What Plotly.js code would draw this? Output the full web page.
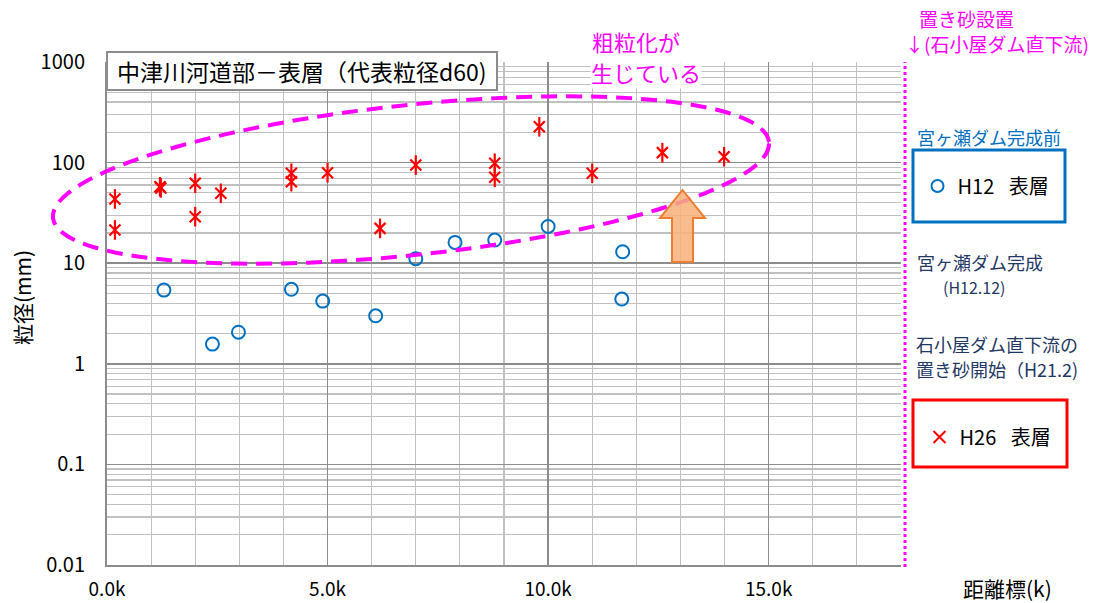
<!DOCTYPE html>
<html><head><meta charset="utf-8">
<script src="https://cdn.plot.ly/plotly-3.0.1.min.js"></script>
<style>html,body{margin:0;padding:0;background:#fff}</style>
</head><body><div id="chart" style="width:1094px;height:603px"></div>
<script>
// H12 surface layer (before Miyagase dam completion)
const h12Dist = [1.29, 2.39, 2.98, 4.18, 4.89, 6.09, 7.0, 7.89, 8.79, 10.0, 11.69, 11.67];
const h12D60  = [5.4, 1.57, 2.06, 5.5, 4.2, 3.0, 11.1, 16.1, 17.0, 23.2, 13.0, 4.4];
// H26 surface layer
const h26Dist = [0.18, 0.18, 1.2, 1.22, 2.0, 2.0, 2.58, 4.18, 4.18, 5.0, 6.19, 7.0, 8.79, 8.79, 9.8, 11.0, 12.59, 13.99];
const h26D60  = [43.5, 21.4, 57.5, 56.0, 62.3, 29.0, 49.5, 78.3, 64.6, 79.4, 22.2, 94.6, 98.4, 71.4, 227, 78.3, 125.6, 114.5];
const xTickVals = [0, 5, 10, 15];
const xTickText = ['0.0k', '5.0k', '10.0k', '15.0k'];
const yTickVals = [0.01, 0.1, 1, 10, 100, 1000];
const yTickText = ['0.01', '0.1', '1', '10', '100', '1000'];

const FONT = '"Noto Sans CJK JP", "Noto Sans", sans-serif';
// plot area in pixels: x 107..901, y 62..565
const PX0 = 107, PX1 = 901, PY0 = 62, PY1 = 565;
const px = v => (v - PX0) / (PX1 - PX0);
const py = v => (PY1 - v) / (PY1 - PY0);

// dashed ellipse (decoration) in pixel space -> paper
function ellipsePath(cx, cy, a, b, phiDeg) {
  const phi = phiDeg * Math.PI / 180;
  let d = '';
  const n = 120;
  for (let i = 0; i <= n; i++) {
    const t = 2 * Math.PI * i / n;
    const dx = a * Math.cos(t) * Math.cos(phi) - b * Math.sin(t) * Math.sin(phi);
    const dy = -(a * Math.cos(t) * Math.sin(phi) + b * Math.sin(t) * Math.cos(phi));
    d += (i === 0 ? 'M' : 'L') + px(cx + dx).toFixed(5) + ',' + py(cy + dy).toFixed(5);
  }
  return d + 'Z';
}
function polyPath(pts) {
  return pts.map((p, i) => (i ? 'L' : 'M') + px(p[0]).toFixed(5) + ',' + py(p[1]).toFixed(5)).join('') + 'Z';
}

const traces = [
  {
    x: h12Dist, y: h12D60, type: 'scatter', mode: 'markers', name: 'H12\u2002 表層',
    marker: {symbol: 'circle-open', size: 13, color: '#0070C0', line: {width: 2, color: '#0070C0'}},
    legend: 'legend'
  },
  {
    x: h26Dist, y: h26D60, type: 'scatter', mode: 'markers', name: 'H26\u2002 表層',
    marker: {symbol: 'x-thin-open', size: 11, color: '#FF0000', line: {width: 2.2, color: '#FF0000'}},
    legend: 'legend2'
  },
  {
    x: h26Dist, y: h26D60, type: 'scatter', mode: 'markers', name: 'H26', showlegend: false,
    marker: {symbol: 'line-ns-open', size: 14, color: '#FF0000', line: {width: 2.2, color: '#FF0000'}}
  }
];

const layout = {
  width: 1094, height: 603,
  margin: {l: PX0, r: 1094 - PX1, t: PY0, b: 603 - PY1},
  paper_bgcolor: '#ffffff', plot_bgcolor: '#ffffff',
  font: {family: FONT, color: '#000000'},
  showlegend: true,
  xaxis: {
    range: [0, 18], tickvals: xTickVals, ticktext: xTickText,
    showgrid: true, gridcolor: '#8C8C8C', gridwidth: 1.5,
    minor: {dtick: 1, showgrid: true, gridcolor: '#C0C0C0', gridwidth: 1.2},
    showline: true, linecolor: '#8C8C8C', linewidth: 2,
    ticks: '', zeroline: false,
    tickfont: {size: 19, family: FONT, color: '#000'}, ticklabelstandoff: 6
  },
  yaxis: {
    type: 'log', range: [-2, 3], tickvals: yTickVals, ticktext: yTickText,
    showgrid: true, gridcolor: '#8C8C8C', gridwidth: 1.5,
    minor: {dtick: 'D1', showgrid: true, gridcolor: '#C0C0C0', gridwidth: 1.2},
    showline: true, linecolor: '#8C8C8C', linewidth: 2,
    ticks: '', zeroline: false,
    tickfont: {size: 20, family: FONT, color: '#000'}, ticklabelstandoff: 16
  },
  legend: {
    x: px(986), y: py(186), xanchor: 'center', yanchor: 'middle',
    bgcolor: 'rgba(0,0,0,0)', borderwidth: 0, font: {size: 20, family: FONT, color: '#000'},
    itemsizing: 'constant', itemwidth: 30
  },
  legend2: {
    x: px(988), y: py(437), xanchor: 'center', yanchor: 'middle',
    bgcolor: 'rgba(0,0,0,0)', borderwidth: 0, font: {size: 20, family: FONT, color: '#000'},
    itemsizing: 'constant', itemwidth: 30
  },
  shapes: [
    // title box
    {type: 'rect', xref: 'paper', yref: 'paper', x0: 0, x1: px(497), y0: py(90), y1: py(52),
     fillcolor: '#ffffff', line: {color: '#8C8C8C', width: 2}, layer: 'above'},
    // dashed ellipse
    {type: 'path', xref: 'paper', yref: 'paper', path: ellipsePath(411, 180, 360, 75, 6.06),
     line: {color: '#FF00FF', width: 4, dash: '16px,9px'}, fillcolor: 'rgba(0,0,0,0)', layer: 'above'},
    // arrow
    {type: 'path', xref: 'paper', yref: 'paper',
     path: polyPath([[672, 262], [672, 218], [660, 218], [682.5, 190], [705, 218], [693, 218], [693, 262]]),
     fillcolor: 'rgba(248,176,120,0.85)', line: {color: '#ED7D31', width: 2}, layer: 'above'},
    // magenta dotted vertical line
    {type: 'line', xref: 'paper', yref: 'paper', x0: px(905), x1: px(905), y0: py(567), y1: py(62),
     line: {color: '#FF00FF', width: 3, dash: 'dot'}, layer: 'above'},
    // legend boxes
    {type: 'rect', xref: 'paper', yref: 'paper', x0: px(913), x1: px(1065), y0: py(222), y1: py(150),
     line: {color: '#0070C0', width: 3}, fillcolor: 'rgba(0,0,0,0)'},
    {type: 'rect', xref: 'paper', yref: 'paper', x0: px(913), x1: px(1067), y0: py(467), y1: py(400),
     line: {color: '#FF0000', width: 3}, fillcolor: 'rgba(0,0,0,0)'}
  ],
  annotations: [
    {text: '中津川河道部－表層（代表粒径d60)', xref: 'paper', yref: 'paper', x: px(115), y: py(71),
     xanchor: 'left', yanchor: 'middle', showarrow: false, font: {size: 23, family: FONT, color: '#000'}},
    {text: '粗粒化が', xref: 'paper', yref: 'paper', x: px(590), y: py(41),
     xanchor: 'left', yanchor: 'middle', showarrow: false, font: {size: 22, family: FONT, color: '#FF00FF'}},
    {text: '生じている', xref: 'paper', yref: 'paper', x: px(590), y: py(72),
     xanchor: 'left', yanchor: 'middle', showarrow: false, bgcolor: 'rgba(255,255,255,0.85)', borderpad: 0,
     font: {size: 22, family: FONT, color: '#FF00FF'}},
    {text: '置き砂設置', xref: 'paper', yref: 'paper', x: px(917), y: py(19),
     xanchor: 'left', yanchor: 'middle', showarrow: false, font: {size: 19, family: FONT, color: '#FF00FF'}},
    {text: '↓(石小屋ダム直下流)', xref: 'paper', yref: 'paper', x: px(903), y: py(44),
     xanchor: 'left', yanchor: 'middle', showarrow: false, font: {size: 19, family: FONT, color: '#FF00FF'}},
    {text: '宮ヶ瀬ダム完成前', xref: 'paper', yref: 'paper', x: px(915), y: py(137),
     xanchor: 'left', yanchor: 'middle', showarrow: false, font: {size: 18, family: FONT, color: '#0070C0'}},
    {text: '宮ヶ瀬ダム完成', xref: 'paper', yref: 'paper', x: px(915), y: py(262),
     xanchor: 'left', yanchor: 'middle', showarrow: false, font: {size: 18, family: FONT, color: '#1F3864'}},
    {text: '(H12.12)', xref: 'paper', yref: 'paper', x: px(941), y: py(287),
     xanchor: 'left', yanchor: 'middle', showarrow: false, font: {size: 16, family: FONT, color: '#1F3864'}},
    {text: '石小屋ダム直下流の', xref: 'paper', yref: 'paper', x: px(914), y: py(344),
     xanchor: 'left', yanchor: 'middle', showarrow: false, font: {size: 18, family: FONT, color: '#1F3864'}},
    {text: '置き砂開始（H21.2)', xref: 'paper', yref: 'paper', x: px(914), y: py(369),
     xanchor: 'left', yanchor: 'middle', showarrow: false, font: {size: 18, family: FONT, color: '#1F3864'}},
    {text: '距離標(k)', xref: 'paper', yref: 'paper', x: px(1008), y: py(588),
     xanchor: 'center', yanchor: 'middle', showarrow: false, font: {size: 21, family: FONT, color: '#000'}},
    {text: '粒径(mm)', xref: 'paper', yref: 'paper', x: px(22), y: py(298), textangle: -90,
     xanchor: 'center', yanchor: 'middle', showarrow: false, font: {size: 21, family: FONT, color: '#000'}}
  ]
};

Plotly.newPlot('chart', traces, layout, {displayModeBar: false, staticPlot: true});
</script></body></html>
